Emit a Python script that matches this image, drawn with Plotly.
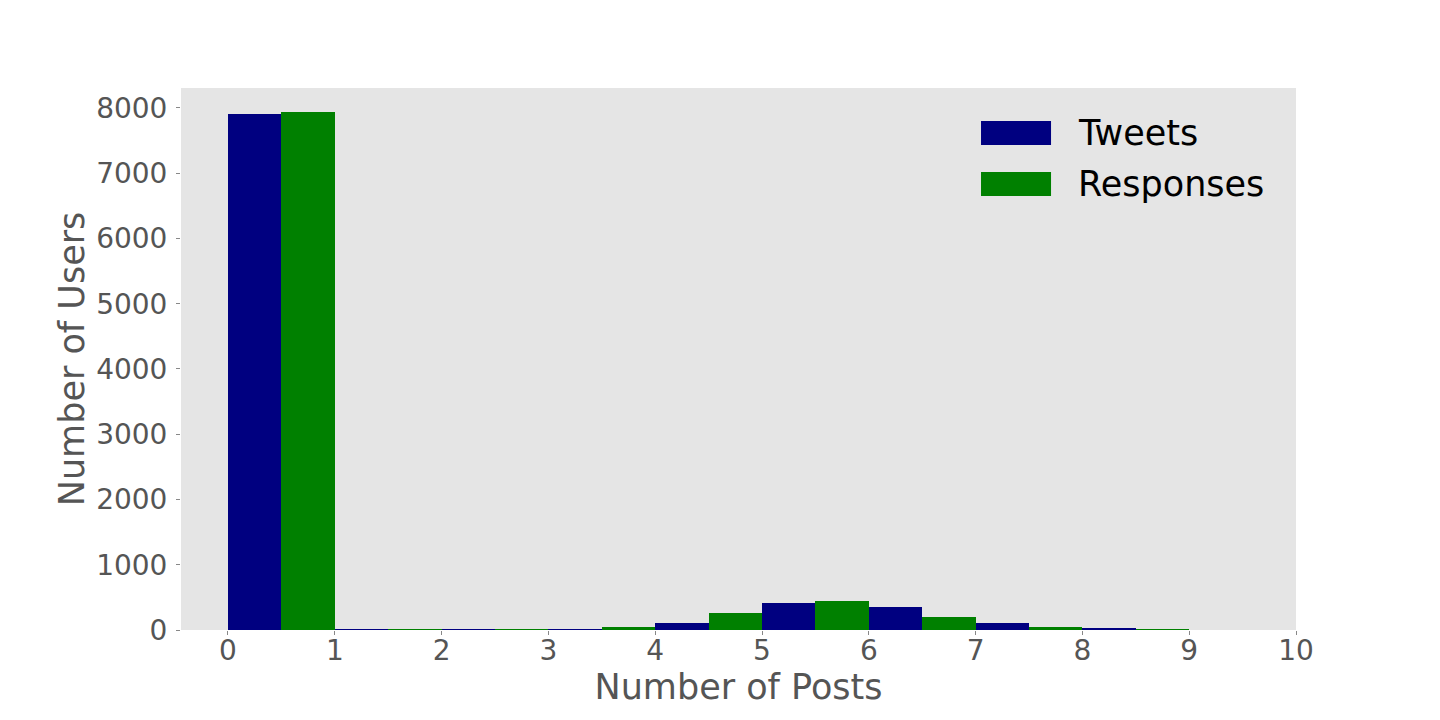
import plotly.graph_objects as go

bins = [0, 1, 2, 3, 4, 5, 6, 7, 8, 9]
tweets = [7905, 8, 8, 6, 115, 420, 348, 115, 20, 0]
responses = [7935, 5, 5, 50, 265, 440, 205, 41, 10, 0]
x_ticks = [0, 1, 2, 3, 4, 5, 6, 7, 8, 9, 10]
y_ticks = [0, 1000, 2000, 3000, 4000, 5000, 6000, 7000, 8000]
names = ["Tweets", "Responses"]
colors = ["#000080", "#008000"]

fig = go.Figure()
fig.add_trace(go.Bar(x=[b + 0.25 for b in bins], y=tweets, width=0.5,
                     marker=dict(color=colors[0], line=dict(width=0)), name=names[0]))
fig.add_trace(go.Bar(x=[b + 0.75 for b in bins], y=responses, width=0.5,
                     marker=dict(color=colors[1], line=dict(width=0)), name=names[1]))

font = "DejaVu Sans, sans-serif"
fig.update_layout(
    width=1440, height=720,
    margin=dict(l=173, r=152, t=80, b=98),
    paper_bgcolor="white", plot_bgcolor="#e5e5e5",
    showlegend=False, barmode="overlay", bargap=0,
    font=dict(family=font, color="#555555"),
)
fig.update_xaxes(range=[-0.44, 10], tickvals=x_ticks, ticks="outside", ticklen=4,
                 tickcolor="#888888", showgrid=False, zeroline=False, ticklabelstandoff=-9,
                 tickfont=dict(size=28, color="#555555"),
                 title=dict(text="Number of Posts", font=dict(size=35, color="#555555"), standoff=4))
fig.update_yaxes(range=[0, 8306], tickvals=y_ticks, ticks="outside", ticklen=4,
                 tickcolor="#888888", showgrid=False, zeroline=False, ticklabelstandoff=3,
                 tickfont=dict(size=28, color="#555555"),
                 title=dict(text="Number of Users", font=dict(size=35, color="#555555"), standoff=0))

# custom legend
sw_y = [(0.8948, 0.9391), (0.8007, 0.845)]
txt_y = [0.917, 0.8229]
for i in range(2):
    fig.add_shape(type="rect", xref="paper", yref="paper", x0=0.7175, x1=0.7803,
                  y0=sw_y[i][0], y1=sw_y[i][1], fillcolor=colors[i], line=dict(width=0))
    fig.add_annotation(xref="paper", yref="paper", x=0.8027, y=txt_y[i], text=names[i],
                       showarrow=False, xanchor="left", yanchor="middle",
                       font=dict(size=35, color="black", family=font))

fig.write_html("out.html")
